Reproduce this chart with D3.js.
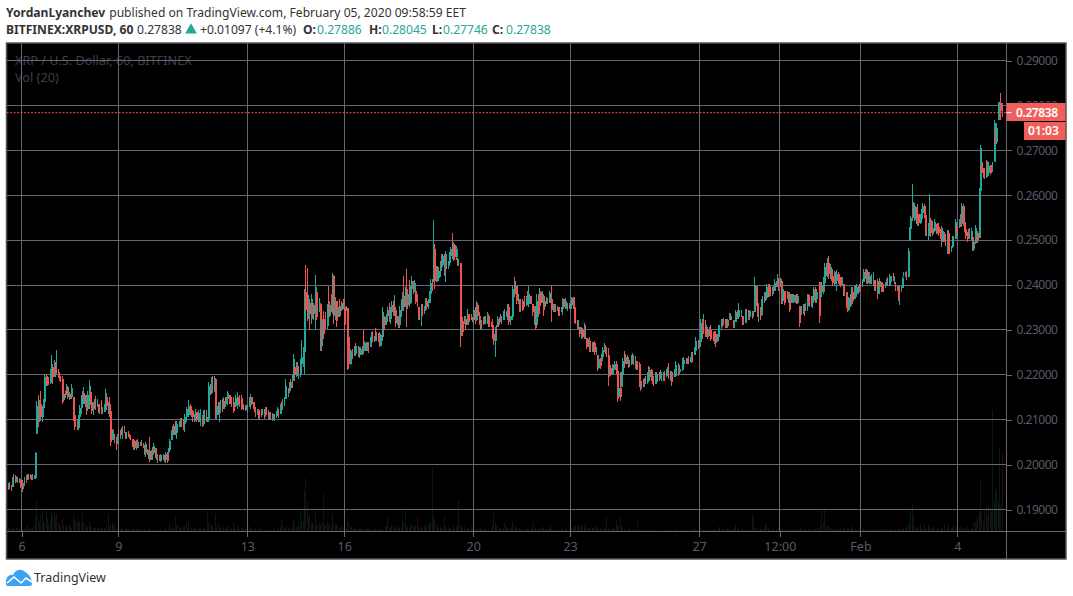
<!DOCTYPE html>
<html>
<head>
<meta charset="utf-8">
<style>
html,body{margin:0;padding:0;background:#fff;overflow:hidden}
svg{display:block}
text{font-family:"Noto Sans","Open Sans",sans-serif}
</style>
<script src="https://cdn.jsdelivr.net/npm/d3@7/dist/d3.min.js"></script>
</head>
<body>
<svg id="chart" width="1073" height="596"></svg>
<script>
// Hourly XRP/USD candles; prices are stored in units of 0.0001 USD.
const firstHour = -10; // hours relative to 6 January 00:00
const firstOpen = 1950;

const highs = [
1958,1962,1955,1973,1978,1977,1975,1972,1970,1969,
1965,1958,1972,1976,1978,1979,1978,1976,1978,1976,
2028,2141,2154,2143,2165,2130,2147,2200,2202,2198,
2195,2213,2245,2217,2232,2228,2256,2213,2206,2198,
2198,2165,2165,2180,2176,2161,2158,2180,2150,2121,
2110,2102,2110,2132,2154,2165,2173,2154,2147,2165,
2189,2161,2158,2139,2147,2152,2147,2135,2135,2143,
2128,2135,2169,2150,2139,2150,2132,2080,2078,2069,
2061,2069,2080,2076,2082,2087,2087,2073,2073,2075,
2069,2067,2058,2058,2054,2054,2058,2050,2050,2054,
2047,2043,2050,2035,2032,2061,2032,2039,2047,2036,
2025,2023,2021,2023,2021,2023,2021,2028,2028,2037,
2058,2076,2087,2091,2098,2098,2091,2098,2104,2104,
2102,2113,2128,2124,2143,2135,2124,2121,2113,2124,
2117,2121,2110,2124,2110,2121,2121,2121,2106,2184,
2180,2195,2198,2198,2191,2135,2139,2139,2143,2147,
2150,2150,2150,2165,2154,2150,2150,2150,2139,2154,
2161,2150,2154,2154,2143,2135,2132,2132,2132,2150,
2158,2150,2139,2139,2128,2124,2124,2121,2124,2124,
2124,2128,2128,2121,2117,2117,2115,2112,2113,2120,
2128,2124,2135,2140,2145,2150,2191,2165,2170,2185,
2190,2200,2247,2217,2228,2228,2213,2235,2278,2263,
2392,2444,2438,2378,2369,2380,2369,2361,2422,2384,
2380,2371,2358,2335,2343,2324,2339,2358,2398,2365,
2380,2427,2423,2373,2365,2358,2369,2354,2365,2369,
2369,2354,2349,2310,2258,2254,2258,2265,2270,2265,
2265,2261,2261,2265,2300,2276,2273,2273,2273,2284,
2295,2298,2287,2304,2295,2293,2295,2291,2352,2332,
2328,2335,2350,2361,2350,2364,2365,2378,2350,2332,
2332,2354,2369,2384,2421,2395,2436,2391,2411,2398,
2421,2410,2411,2387,2380,2352,2350,2358,2358,2354,
2371,2371,2369,2387,2413,2413,2545,2491,2443,2443,
2439,2454,2470,2470,2469,2476,2458,2454,2473,2484,
2516,2495,2491,2487,2461,2458,2450,2328,2328,2332,
2332,2347,2335,2335,2335,2328,2350,2350,2364,2361,
2339,2328,2321,2328,2332,2332,2339,2335,2321,2317,
2324,2306,2306,2310,2332,2328,2335,2332,2343,2347,
2343,2358,2358,2332,2332,2398,2417,2408,2398,2380,
2369,2369,2369,2365,2376,2376,2387,2398,2376,2372,
2358,2354,2354,2380,2380,2393,2387,2387,2376,2365,
2373,2371,2386,2380,2399,2358,2358,2358,2354,2350,
2350,2352,2371,2369,2371,2358,2361,2361,2358,2374,
2373,2373,2322,2322,2321,2307,2307,2304,2315,2310,
2282,2280,2285,2272,2272,2272,2275,2261,2243,2239,
2237,2247,2263,2270,2267,2261,2260,2221,2221,2224,
2221,2230,2230,2210,2206,2206,2206,2238,2254,2247,
2243,2239,2232,2243,2249,2243,2241,2230,2230,2228,
2187,2187,2191,2193,2198,2206,2220,2217,2213,2206,
2198,2206,2206,2202,2206,2211,2206,2206,2208,2213,
2218,2226,2208,2208,2206,2213,2230,2213,2226,2221,
2213,2238,2239,2232,2238,2238,2241,2239,2250,2250,
2261,2284,2276,2278,2278,2324,2324,2336,2322,2310,
2306,2307,2310,2299,2295,2297,2297,2291,2310,2310,
2324,2324,2326,2324,2325,2325,2337,2337,2332,2321,
2321,2344,2344,2360,2344,2344,2332,2332,2347,2347,
2344,2344,2343,2343,2341,2418,2398,2369,2350,2350,
2369,2376,2384,2384,2402,2402,2402,2398,2396,2398,
2413,2410,2424,2416,2416,2413,2399,2387,2387,2387,
2384,2384,2380,2380,2380,2378,2380,2381,2354,2335,
2354,2358,2358,2361,2381,2380,2374,2376,2376,2395,
2395,2391,2384,2406,2406,2407,2417,2448,2448,2460,
2465,2447,2436,2436,2432,2424,2433,2428,2424,2417,
2417,2402,2398,2384,2384,2374,2380,2395,2395,2398,
2398,2402,2398,2402,2406,2413,2436,2436,2436,2433,
2428,2417,2424,2428,2411,2411,2413,2410,2416,2406,
2406,2402,2406,2413,2418,2424,2421,2421,2426,2421,
2406,2398,2398,2398,2398,2417,2428,2428,2432,2482,
2530,2554,2624,2584,2582,2573,2580,2558,2558,2569,
2582,2580,2571,2539,2539,2602,2550,2543,2528,2547,
2536,2539,2539,2524,2532,2528,2517,2513,2522,2522,
2499,2487,2510,2510,2547,2532,2532,2547,2558,2582,
2580,2547,2536,2517,2524,2527,2527,2506,2502,2534,
2527,2521,2615,2712,2675,2660,2660,2678,2677,2675,
2667,2667,2675,2767,2745,2760,2808,2808,2827,2804.5
];

const lows = [
1943,1945,1942,1950,1961,1958,1962,1960,1958,1947,
1939,1945,1952,1958,1965,1966,1968,1966,1965,1968,
1969,2069,2084,2095,2098,2095,2110,2128,2176,2174,
2178,2180,2187,2180,2195,2198,2202,2193,2187,2184,
2134,2143,2149,2154,2147,2144,2147,2147,2098,2078,
2084,2076,2078,2095,2113,2128,2135,2128,2110,2124,
2124,2132,2113,2110,2124,2121,2128,2115,2112,2113,
2112,2117,2117,2121,2113,2106,2041,2054,2056,2047,
2032,2045,2050,2058,2065,2058,2070,2058,2056,2061,
2056,2054,2039,2033,2032,2032,2036,2036,2041,2041,
2036,2021,2017,2021,2013,2006,2010,2021,2021,2014,
2010,2004,2008,2006,2008,2010,2006,2004,2004,2021,
2028,2054,2058,2065,2065,2058,2076,2084,2084,2084,
2076,2073,2095,2106,2106,2110,2106,2095,2095,2098,
2095,2095,2095,2087,2084,2087,2098,2095,2095,2095,
2154,2158,2174,2161,2102,2102,2110,2095,2121,2117,
2124,2128,2135,2132,2135,2135,2128,2115,2124,2128,
2124,2132,2128,2121,2124,2121,2119,2121,2117,2128,
2124,2132,2124,2117,2106,2110,2102,2100,2106,2110,
2102,2106,2110,2102,2100,2100,2098,2100,2098,2103,
2108,2104,2112,2118,2122,2130,2145,2150,2150,2160,
2165,2170,2187,2187,2195,2198,2191,2195,2202,2217,
2202,2339,2319,2324,2300,2313,2324,2321,2300,2321,
2328,2339,2252,2252,2280,2306,2302,2302,2321,2328,
2339,2335,2313,2321,2307,2328,2328,2332,2343,2347,
2300,2343,2210,2212,2221,2232,2235,2241,2243,2247,
2239,2238,2243,2245,2247,2254,2254,2254,2248,2261,
2269,2272,2272,2275,2276,2272,2261,2265,2276,2284,
2310,2310,2317,2317,2313,2336,2332,2332,2306,2310,
2304,2304,2328,2343,2343,2350,2307,2347,2350,2358,
2369,2380,2384,2358,2350,2321,2321,2308,2332,2335,
2343,2344,2347,2361,2367,2387,2406,2390,2406,2406,
2410,2417,2441,2441,2421,2406,2436,2436,2443,2454,
2458,2454,2456,2456,2443,2443,2261,2287,2287,2313,
2300,2310,2317,2317,2321,2317,2310,2313,2321,2321,
2310,2300,2300,2310,2313,2317,2313,2306,2306,2306,
2280,2267,2239,2280,2306,2310,2317,2313,2321,2324,
2328,2321,2310,2310,2321,2321,2373,2380,2358,2358,
2339,2339,2343,2350,2350,2354,2358,2350,2358,2358,
2332,2310,2300,2310,2328,2361,2354,2361,2332,2350,
2358,2358,2361,2361,2318,2339,2339,2339,2343,2332,
2332,2339,2334,2347,2347,2347,2343,2347,2347,2347,
2347,2315,2313,2302,2302,2284,2280,2282,2280,2280,
2258,2261,2250,2250,2250,2250,2245,2243,2208,2213,
2213,2228,2230,2250,2247,2239,2174,2198,2198,2201,
2201,2210,2201,2139,2150,2141,2172,2198,2215,2223,
2223,2215,2217,2221,2223,2221,2213,2211,2211,2173,
2164,2169,2173,2173,2180,2180,2191,2187,2187,2180,
2174,2180,2184,2184,2187,2191,2187,2187,2187,2195,
2198,2191,2187,2176,2191,2195,2195,2198,2198,2202,
2206,2208,2221,2223,2223,2223,2223,2228,2226,2228,
2243,2243,2254,2258,2263,2263,2280,2291,2284,2284,
2280,2287,2276,2282,2276,2269,2261,2273,2276,2291,
2302,2306,2310,2304,2304,2304,2321,2321,2321,2304,
2304,2317,2324,2324,2328,2328,2310,2310,2315,2324,
2322,2322,2328,2324,2328,2339,2354,2328,2318,2321,
2334,2350,2361,2365,2367,2374,2374,2376,2376,2380,
2386,2395,2396,2387,2396,2358,2358,2356,2369,2369,
2361,2339,2361,2359,2359,2359,2358,2358,2307,2319,
2334,2336,2332,2343,2343,2354,2350,2350,2349,2361,
2361,2361,2369,2315,2373,2376,2380,2398,2421,2417,
2413,2413,2410,2398,2398,2402,2387,2402,2398,2395,
2398,2376,2376,2349,2339,2343,2350,2354,2358,2369,
2374,2374,2380,2384,2387,2395,2406,2413,2402,2402,
2402,2402,2402,2398,2387,2387,2369,2381,2381,2384,
2384,2384,2393,2398,2398,2398,2406,2406,2410,2402,
2386,2386,2365,2356,2384,2393,2417,2417,2411,2418,
2497,2497,2543,2550,2543,2536,2532,2532,2536,2539,
2547,2550,2510,2510,2500,2510,2508,2510,2513,2517,
2513,2513,2510,2502,2485,2495,2495,2487,2470,2470,
2470,2473,2482,2487,2502,2510,2510,2528,2530,2530,
2532,2517,2502,2495,2502,2502,2500,2476,2476,2491,
2493,2493,2504,2608,2641,2638,2635,2638,2645,2643,
2645,2652,2652,2675,2702,2719,2767,2767,2767,2774.6
];

const closes = [
1948,1958,1947,1968,1972,1965,1970,1964,1966,1952,
1943,1952,1965,1960,1974,1968,1975,1970,1975,1970,
2025,2130,2100,2135,2105,2125,2140,2195,2180,2190,
2182,2205,2225,2195,2220,2205,2210,2198,2195,2190,
2140,2158,2152,2172,2150,2155,2150,2170,2105,2085,
2090,2082,2105,2125,2145,2135,2160,2135,2120,2155,
2175,2140,2120,2130,2140,2128,2140,2120,2130,2118,
2122,2128,2160,2130,2135,2120,2050,2072,2060,2052,
2040,2060,2055,2070,2068,2080,2075,2062,2070,2064,
2060,2058,2044,2052,2038,2048,2040,2046,2043,2050,
2040,2026,2045,2025,2030,2010,2028,2025,2042,2020,
2015,2018,2010,2020,2012,2018,2010,2024,2008,2032,
2052,2070,2062,2085,2070,2090,2080,2095,2088,2098,
2090,2105,2120,2110,2130,2115,2120,2105,2108,2118,
2100,2115,2100,2105,2090,2112,2102,2115,2100,2175,
2160,2185,2178,2192,2110,2130,2115,2132,2135,2122,
2142,2132,2145,2160,2140,2148,2135,2120,2130,2148,
2155,2135,2148,2125,2138,2125,2128,2124,2128,2145,
2150,2135,2132,2120,2112,2120,2105,2118,2110,2120,
2112,2122,2115,2105,2110,2105,2108,2104,2110,2115,
2122,2110,2128,2125,2138,2146,2175,2160,2180,2170,
2185,2175,2235,2200,2220,2205,2210,2225,2240,2250,
2385,2345,2330,2360,2335,2345,2355,2335,2395,2350,
2340,2360,2265,2325,2290,2318,2308,2350,2330,2355,
2345,2420,2330,2365,2320,2350,2335,2345,2360,2350,
2310,2348,2285,2225,2240,2250,2238,2260,2250,2255,
2255,2243,2258,2262,2250,2270,2258,2268,2255,2278,
2290,2278,2285,2280,2290,2278,2265,2288,2340,2300,
2320,2330,2345,2325,2340,2355,2340,2345,2315,2325,
2310,2345,2360,2375,2350,2385,2355,2380,2360,2390,
2410,2385,2405,2362,2355,2328,2340,2345,2338,2350,
2365,2350,2360,2380,2405,2395,2480,2410,2440,2415,
2432,2450,2445,2465,2440,2470,2445,2450,2465,2480,
2465,2490,2462,2480,2448,2455,2300,2320,2295,2325,
2310,2335,2320,2330,2325,2322,2345,2320,2355,2330,
2315,2305,2318,2312,2328,2320,2330,2312,2318,2310,
2290,2275,2290,2285,2325,2315,2330,2318,2338,2330,
2335,2350,2318,2325,2328,2390,2385,2400,2365,2375,
2350,2362,2345,2360,2355,2370,2358,2380,2362,2372,
2340,2350,2305,2365,2335,2385,2360,2380,2345,2355,
2370,2362,2382,2368,2345,2345,2352,2340,2350,2338,
2335,2348,2368,2350,2365,2350,2358,2348,2355,2370,
2350,2320,2315,2305,2315,2290,2300,2285,2295,2284,
2262,2275,2255,2265,2255,2270,2250,2255,2215,2235,
2220,2240,2255,2265,2255,2245,2195,2215,2200,2218,
2205,2225,2208,2145,2170,2150,2200,2230,2225,2240,
2228,2220,2228,2235,2245,2230,2238,2215,2225,2180,
2170,2180,2175,2188,2185,2200,2195,2210,2195,2190,
2180,2200,2190,2198,2190,2205,2195,2202,2192,2205,
2212,2200,2205,2185,2200,2205,2222,2205,2218,2205,
2210,2232,2225,2230,2225,2235,2228,2235,2245,2235,
2255,2260,2270,2262,2272,2315,2300,2305,2290,2300,
2285,2300,2280,2295,2280,2290,2270,2285,2300,2305,
2318,2310,2320,2308,2322,2308,2330,2325,2332,2308,
2315,2340,2328,2345,2332,2340,2325,2315,2340,2328,
2340,2328,2338,2330,2335,2400,2360,2335,2345,2330,
2360,2370,2378,2370,2395,2380,2392,2385,2392,2385,
2405,2398,2402,2395,2410,2365,2390,2360,2380,2372,
2380,2345,2375,2362,2378,2368,2360,2375,2315,2325,
2345,2352,2340,2355,2378,2360,2370,2358,2365,2390,
2370,2385,2375,2330,2400,2385,2405,2440,2430,2450,
2425,2440,2420,2405,2428,2410,2425,2405,2418,2400,
2410,2385,2392,2355,2345,2370,2360,2385,2365,2390,
2380,2395,2385,2398,2392,2405,2430,2420,2428,2405,
2420,2405,2412,2420,2395,2408,2380,2395,2410,2388,
2400,2392,2402,2405,2395,2418,2408,2418,2412,2420,
2395,2390,2370,2380,2392,2415,2420,2425,2418,2475,
2525,2550,2570,2545,2575,2550,2560,2538,2550,2560,
2575,2555,2520,2530,2535,2545,2515,2525,2520,2540,
2520,2530,2515,2510,2495,2520,2505,2495,2515,2478,
2475,2485,2505,2495,2540,2515,2525,2540,2535,2575,
2540,2525,2510,2500,2515,2505,2520,2480,2495,2525,
2515,2500,2610,2705,2650,2645,2640,2665,2650,2665,
2650,2660,2668,2760,2715,2750,2800,2805,2788.6,2783.8
];

// Volume per candle, in thousands of contracts
const volumes = [
3,4,3,2,3,2,4,3,2,1,2,1,3,5,4,2,3,2,3,6,
14,32,12,9,16,18,10,8,20,14,8,10,19,15,19,14,18,8,6,5,
13,6,4,5,4,7,5,3,16,11,9,12,8,10,7,18,9,6,5,4,
9,5,4,3,3,4,3,2,4,3,2,3,2,5,17,4,6,9,5,8,
3,2,4,2,3,2,1,2,3,2,1,2,2,3,1,2,2,1,2,1,
1,2,1,1,2,3,1,2,1,1,2,1,1,1,2,1,1,3,1,2,
8,4,3,4,16,6,5,3,4,3,4,5,7,3,9,4,3,2,3,2,
3,2,4,3,2,3,4,2,20,8,5,7,4,3,17,5,9,4,3,6,
3,2,4,5,2,3,2,8,3,2,5,3,2,3,4,2,3,2,3,5,
3,2,1,2,3,1,2,3,5,2,1,1,2,1,1,2,1,3,1,1,
2,3,4,12,6,3,2,5,4,2,3,4,12,7,5,4,9,20,8,10,
40,53,30,14,16,9,8,6,20,7,5,8,6,9,37,7,5,9,6,7,
5,17,8,6,7,5,4,3,6,4,5,3,13,9,5,4,2,3,2,1,
3,2,3,2,1,2,4,2,3,1,2,1,3,2,1,2,3,1,2,1,
4,5,15,3,4,5,6,3,4,2,5,3,4,12,8,20,6,4,3,5,
8,6,4,5,15,4,3,5,3,6,4,7,5,8,9,64,14,12,6,4,
3,4,3,2,16,5,3,2,4,3,2,6,3,4,5,32,7,4,3,4,
3,2,3,2,4,2,3,2,1,3,2,3,2,1,3,2,1,2,1,3,
6,18,9,5,4,3,2,2,3,9,5,3,2,3,4,10,6,4,3,2,
3,2,1,2,1,2,3,2,1,2,9,4,3,2,2,3,2,5,3,2,
1,2,3,7,2,1,1,2,1,1,1,3,2,1,2,1,1,2,1,3,
5,4,6,3,7,5,6,4,7,3,5,3,2,4,3,5,3,6,3,2,
3,2,2,4,3,14,3,2,1,3,2,3,11,5,6,14,5,3,2,1,
2,1,3,1,1,2,1,1,10,2,1,1,2,1,1,1,2,1,1,1,
1,1,0,1,1,1,0,1,1,1,1,1,1,1,0,1,1,2,1,1,
1,1,2,1,1,1,1,2,1,1,4,2,1,1,7,3,2,1,1,1,
2,1,1,1,2,1,2,1,5,3,2,1,2,1,2,3,2,1,1,2,
3,7,3,2,1,1,2,1,1,1,2,1,2,16,13,4,3,2,1,2,
2,2,4,7,6,3,1,1,2,1,1,2,1,5,3,2,2,1,1,2,
1,2,1,1,2,1,1,2,1,3,2,1,2,1,1,3,2,1,1,2,
2,1,4,3,5,21,8,21,6,4,5,3,2,3,2,1,4,2,1,3,
1,2,3,2,4,3,2,5,3,2,1,1,2,1,2,1,3,1,1,2,
1,2,1,2,1,1,2,1,1,2,1,3,2,1,2,1,1,2,1,1,
2,1,3,2,1,4,2,3,5,6,8,20,26,15,5,3,2,4,6,2,
3,8,2,3,6,4,2,3,5,3,2,1,3,2,4,3,7,2,3,6,
2,3,4,7,5,2,8,3,2,5,3,2,3,4,2,1,2,3,8,9,
10,15,20,51,18,10,22,25,14,25,23,20,121,30,40,43,30,83,28,79
];

const priceTicks = [0.19,0.20,0.21,0.22,0.23,0.24,0.25,0.26,0.27,0.28,0.29];
const timeTickHours = [0,72,168,240,336,408,504,564,624,696];
const timeTickLabels = ["6","9","13","16","20","23","27","12:00","Feb","4"];
const lastPrice = 0.27838;
const countdown = "01:03";

const headerOhlc = [
  ["O:","0.27886",303,317],
  ["H:","0.28045",369,382],
  ["L:","0.27746",432,443],
  ["C:","0.27838",492,506]
];

const UP = "#26a69a", DOWN = "#ef5350";
const VOL_UP = "#041c16", VOL_DOWN = "#1f0d0e";
const GRID = "#686673", LABEL = "#5b5a66", FRAME = "#55555e";

const svg = d3.select("#chart");
const plotLeft = 6.5, plotRight = 1066, plotTop = 43, plotBottom = 559, axisX = 1006.5, paneBottom = 531.5;

const x = d3.scaleLinear().domain([0,729]).range([21.5, 21.5 + 1.3445*729]);
const y = d3.scaleLinear().domain([0.19,0.29]).range([509.5,60.5]);
const v = d3.scaleLinear().domain([0,121]).range([paneBottom,410]);
const price = d3.scaleLinear().domain([0,1e4]).range([0,1]);

svg.append("rect").attr("x",plotLeft).attr("y",plotTop).attr("width",plotRight-plotLeft).attr("height",plotBottom-plotTop)
  .attr("fill","#000").attr("stroke",FRAME).attr("stroke-width",1.5);

// Watermark titles sit under the grid
const mark = svg.append("g").attr("fill","#3f3e49").attr("font-size",12.7);
mark.append("text").attr("x",15).attr("y",65).text("XRP / U.S. Dollar, 60, BITFINEX");
mark.append("text").attr("x",15).attr("y",82).text("Vol (20)");

// Candle records
const candles = closes.map((c,i)=>{
  const open = i ? closes[i-1] : firstOpen;
  return {hour:firstHour+i, open:open, close:c, high:highs[i], low:lows[i], vol:volumes[i], up:c>=open};
});

// Volume pane
svg.append("g").attr("shape-rendering","crispEdges").selectAll("rect").data(candles).join("rect")
  .attr("x",d=>Math.round(x(d.hour))).attr("width",1)
  .attr("y",d=>v(d.vol)).attr("height",d=>paneBottom-v(d.vol))
  .attr("fill",d=>d.up?VOL_UP:VOL_DOWN);

// Grid
const grid = svg.append("g").attr("stroke",GRID).attr("stroke-width",1).attr("shape-rendering","crispEdges");
grid.selectAll("line.h").data(priceTicks).join("line").attr("class","h")
  .attr("x1",plotLeft).attr("x2",axisX)
  .attr("y1",d=>Math.floor(y(d))+.5).attr("y2",d=>Math.floor(y(d))+.5);
grid.selectAll("line.v").data(timeTickHours).join("line").attr("class","v")
  .attr("y1",plotTop).attr("y2",paneBottom)
  .attr("x1",d=>Math.floor(x(d))+.5).attr("x2",d=>Math.floor(x(d))+.5);

// Wicks and bodies; a tall body is drawn two pixels wide
const candleG = svg.append("g").attr("shape-rendering","crispEdges");
const bodyTop = d=>y(price(Math.min(d.high,Math.max(d.open,d.close))));
const bodyBottom = d=>y(price(Math.max(d.low,Math.min(d.open,d.close))));
candleG.selectAll("line").data(candles).join("line")
  .attr("x1",d=>Math.round(x(d.hour))+.5).attr("x2",d=>Math.round(x(d.hour))+.5)
  .attr("y1",d=>y(price(d.high))).attr("y2",d=>y(price(d.low)))
  .attr("stroke",d=>d.up?UP:DOWN).attr("stroke-width",1);
candleG.selectAll("rect").data(candles.filter(d=>bodyBottom(d)-bodyTop(d)>6)).join("rect")
  .attr("x",d=>Math.round(x(d.hour))).attr("width",2)
  .attr("y",bodyTop).attr("height",d=>bodyBottom(d)-bodyTop(d))
  .attr("fill",d=>d.up?UP:DOWN);

// Axes
const priceAxis = d3.axisRight(y).tickValues(priceTicks).tickFormat(d3.format(".5f")).tickSize(5).tickPadding(5);
const pa = svg.append("g").attr("transform",`translate(${axisX},0)`).call(priceAxis);
const timeAxis = d3.axisBottom(x).tickValues(timeTickHours).tickFormat((d,i)=>timeTickLabels[i]).tickSize(5).tickPadding(6);
const ta = svg.append("g").attr("transform",`translate(0,${paneBottom})`).call(timeAxis);
[pa,ta].forEach(a=>{
  a.selectAll(".domain").remove();
  a.selectAll("line").attr("stroke",GRID).attr("shape-rendering","crispEdges");
  a.selectAll("text").attr("fill",LABEL).attr("font-family",'"Noto Sans",sans-serif');
});
ta.selectAll("text").attr("font-size",12.5);
pa.selectAll("text").attr("font-size",12).attr("letter-spacing",-.5);

svg.append("line").attr("x1",plotLeft).attr("x2",plotRight).attr("y1",paneBottom).attr("y2",paneBottom)
  .attr("stroke",GRID).attr("shape-rendering","crispEdges");
svg.append("line").attr("x1",axisX).attr("x2",axisX).attr("y1",plotTop).attr("y2",plotBottom)
  .attr("stroke",GRID).attr("shape-rendering","crispEdges");

// Last price line and its tags
const lastY = y(lastPrice);
svg.append("line").attr("x1",plotLeft).attr("x2",axisX).attr("y1",lastY).attr("y2",lastY)
  .attr("stroke",DOWN).attr("stroke-dasharray","2,1.5");
svg.append("rect").attr("x",axisX).attr("y",103).attr("width",plotRight-axisX-.5).attr("height",18).attr("fill","#f05f5c");
svg.append("rect").attr("x",1024).attr("y",122).attr("width",plotRight-1024-.5).attr("height",18).attr("fill","#f05f5c");
svg.append("line").attr("x1",axisX).attr("x2",axisX+5).attr("y1",lastY).attr("y2",lastY).attr("stroke","#fff");
svg.append("text").attr("x",1016).attr("y",116.5).attr("fill","#fff").attr("font-size",12).attr("font-weight",600)
  .attr("letter-spacing",-.4).text(d3.format(".5f")(lastPrice));
svg.append("text").attr("x",1028).attr("y",135).attr("fill","#fff").attr("font-size",12).attr("font-weight",600).text(countdown);

// Header lines
const head = svg.append("g").attr("font-size",12.1).attr("fill","#333");
const l1 = head.append("text").attr("x",6).attr("y",17);
l1.append("tspan").attr("font-weight",700).text("YordanLyanchev");
l1.append("tspan").attr("dx",4).text("published on TradingView.com, February 05, 2020 09:58:59 EET");
head.append("text").attr("x",6).attr("y",34).attr("font-weight",700).text("BITFINEX:XRPUSD, 60");
head.append("text").attr("x",137).attr("y",34).text("0.27838");
svg.append("path").attr("d",d3.symbol(d3.symbolTriangle,60)()).attr("transform","translate(191,30)").attr("fill",UP);
head.append("text").attr("x",200).attr("y",34).text("+0.01097 (+4.1%)");
headerOhlc.forEach(r=>{
  head.append("text").attr("x",r[2]).attr("y",34).attr("font-weight",700).text(r[0]);
  head.append("text").attr("x",r[3]).attr("y",34).attr("fill",UP).text(r[1]);
});

// Brand mark
svg.append("path").attr("fill","#3ba3f0")
  .attr("d","M6,584 C5,578 9,574 13,575 C15,570 21,568 25,572 C29,574 32,578 32,584 Q32,586 30,586 L8,586 Q6,586 6,584 Z");
svg.append("path").attr("fill","none").attr("stroke","#fff").attr("stroke-width",1.6)
  .attr("d","M7,583 L14,577 L21,583 L26,578 L32,582");
svg.append("text").attr("x",34).attr("y",582).attr("font-size",12.5).attr("fill","#333").text("TradingView");
</script>
</body>
</html>
